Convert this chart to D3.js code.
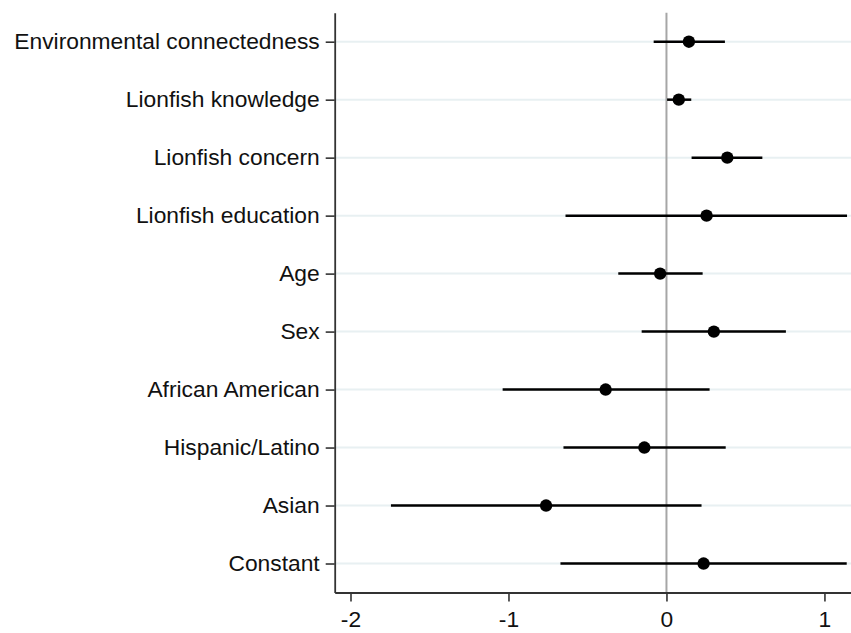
<!DOCTYPE html>
<html>
<head>
<meta charset="utf-8">
<script src="https://cdn.jsdelivr.net/npm/d3@7/dist/d3.min.js"></script>
<style>
  html, body { margin: 0; padding: 0; background: #fff; }
  svg { display: block; }
  text { font-family: "Liberation Sans", Arial, sans-serif; fill: #111; }
</style>
</head>
<body>
<svg id="chart" width="851" height="633"></svg>
<script>
// Regression coefficients with 95% confidence intervals
const terms = [
  "Environmental connectedness",
  "Lionfish knowledge",
  "Lionfish concern",
  "Lionfish education",
  "Age",
  "Sex",
  "African American",
  "Hispanic/Latino",
  "Asian",
  "Constant"
];
const estimates = [0.142, 0.078, 0.385, 0.254, -0.040, 0.300, -0.385, -0.140, -0.762, 0.235];
const lowerCI   = [-0.081, 0.004, 0.159, -0.639, -0.305, -0.157, -1.037, -0.652, -1.744, -0.671];
const upperCI   = [0.370, 0.157, 0.607, 1.143, 0.229, 0.756, 0.273, 0.375, 0.222, 1.141];
const xTicks = [-2, -1, 0, 1];

const rows = terms.map((t, i) => ({ term: t, est: estimates[i], lo: lowerCI[i], hi: upperCI[i] }));

const svg = d3.select("#chart");
const plot = { left: 334.7, right: 851.3, top: 12.7, bottom: 592.5 };

const x = d3.scaleLinear().domain([-2.1, 1.17]).range([plot.left, plot.right]);
const y = d3.scalePoint().domain(terms).range([plot.top, plot.bottom]).padding(0.5);

// horizontal guide lines at each term
svg.append("g").selectAll("line").data(terms).join("line")
  .attr("x1", plot.left).attr("x2", plot.right)
  .attr("y1", d => y(d)).attr("y2", d => y(d))
  .attr("stroke", "#e8f0f2").attr("stroke-width", 2);

// reference line at zero
svg.append("line")
  .attr("x1", x(0)).attr("x2", x(0))
  .attr("y1", plot.top).attr("y2", plot.bottom)
  .attr("stroke", "#a6a6a6").attr("stroke-width", 2);

// confidence intervals
svg.append("g").selectAll("line").data(rows).join("line")
  .attr("x1", d => x(d.lo)).attr("x2", d => x(d.hi))
  .attr("y1", d => y(d.term)).attr("y2", d => y(d.term))
  .attr("stroke", "#000").attr("stroke-width", 2.5);

// point estimates
svg.append("g").selectAll("circle").data(rows).join("circle")
  .attr("cx", d => x(d.est)).attr("cy", d => y(d.term))
  .attr("r", 6.2).attr("fill", "#000");

// axes
const xAxis = svg.append("g")
  .attr("transform", `translate(0,${plot.bottom})`)
  .call(d3.axisBottom(x).tickValues(xTicks).tickFormat(d3.format("d")).tickSizeInner(9).tickSizeOuter(0).tickPadding(9));
const yAxis = svg.append("g")
  .attr("transform", `translate(${plot.left},0)`)
  .call(d3.axisLeft(y).tickSizeInner(9).tickSizeOuter(0).tickPadding(6));

[xAxis, yAxis].forEach(g => {
  g.select(".domain").attr("stroke", "#333").attr("stroke-width", 1.8);
  g.selectAll(".tick line").attr("stroke", "#333").attr("stroke-width", 1.6);
  g.selectAll(".tick text")
    .attr("font-family", "Liberation Sans, Arial, sans-serif")
    .attr("font-size", 22.8).attr("fill", "#111");
});
xAxis.selectAll(".tick text").text(d => d < 0 ? "-" + Math.abs(d) : d);
</script>
</body>
</html>
